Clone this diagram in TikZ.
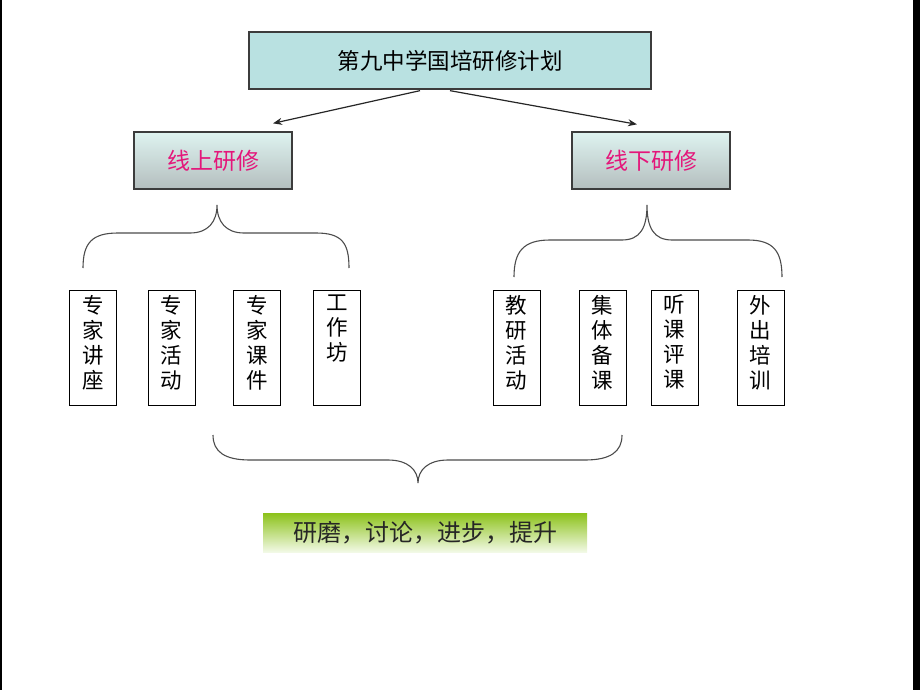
\documentclass[tikz,border=0pt]{standalone}
\usepackage{fontspec}
\setmainfont{Noto Sans CJK SC}
\usetikzlibrary{arrows.meta,calc}
\definecolor{topfill}{RGB}{185,225,225}
\definecolor{midtop}{RGB}{222,243,240}
\definecolor{midbot}{RGB}{180,190,190}
\definecolor{pinktext}{RGB}{228,22,122}
\definecolor{greentop}{RGB}{140,194,26}
\definecolor{greenbot}{RGB}{242,249,230}
\definecolor{edge}{RGB}{60,60,60}
\newcommand\vtext[1]{\parbox[c][115pt][t]{47pt}{\centering\vspace*{5pt}#1\par}}
\begin{document}
\begin{tikzpicture}[x=1pt,y=-1pt,
  topbox/.style={draw=edge, line width=1.3pt, fill=topfill, minimum width=402pt,
    minimum height=57pt, inner sep=0pt, font=\fontsize{22.5}{26}\selectfont},
  midbox/.style={draw=edge, line width=1.3pt, top color=midtop, bottom color=midbot,
    minimum width=158pt, minimum height=57pt, inner sep=0pt, text=pinktext,
    font=\fontsize{23}{27}\selectfont},
  itembox/.style={draw=black, line width=1pt, minimum width=47pt, minimum height=115pt,
    inner sep=0pt, font=\fontsize{21.5}{25}\selectfont},
  resultbox/.style={top color=greentop, bottom color=greenbot, minimum width=324pt,
    minimum height=39pt, inner sep=0pt, text=black!85, font=\fontsize{24}{28}\selectfont},
  arrowline/.style={draw=black!85, line width=1.2pt, -{Stealth[length=9pt,width=7pt]}},
  brace/.style={draw=black!70, line width=1.1pt}
]
\useasboundingbox (0,0) rectangle (920,690);
\fill[black] (0,0) rectangle (1.5,690);
\fill[black] (913,0) rectangle (920,690);

\node[topbox] (top) at (450,60.5) {第九中学国培研修计划};
\node[midbox] (on) at (213,160.5) {线上研修};
\node[midbox] (off) at (651,160.5) {线下研修};

\draw[arrowline] ($(top.south)+(-30,1)$) -- ($(on.north)+(60,-8)$);
\draw[arrowline] ($(top.south)+(0,1)$) -- ($(off.north)+(-14,-7)$);

% upper-left brace
\draw[brace] (83,268) .. controls (83,243) and (92,233) .. (118,233) -- (190,233)
  .. controls (208,233) and (217,222) .. (217,205)
  .. controls (217,222) and (226,233) .. (244,233) -- (316,233)
  .. controls (342,233) and (349,243) .. (349,268);
% upper-right brace
\draw[brace] (514,277) .. controls (514,252) and (523,240) .. (550,240) -- (622,240)
  .. controls (640,240) and (647,228) .. (647,205)
  .. controls (647,228) and (654,240) .. (672,240) -- (748,240)
  .. controls (774,240) and (782,252) .. (782,277);

\node[itembox] (b1) at (93,347.5) {\vtext{专\\家\\讲\\座}};
\node[itembox] (b2) at (171.5,347.5) {\vtext{专\\家\\活\\动}};
\node[itembox] (b3) at (257,347.5) {\vtext{专\\家\\课\\件}};
\node[itembox] (b4) at (337,347.5) {\vtext{工\\作\\坊}};
\node[itembox] (b5) at (516.5,347.5) {\vtext{教\\研\\活\\动}};
\node[itembox] (b6) at (602.5,347.5) {\vtext{集\\体\\备\\课}};
\node[itembox] (b7) at (674.5,347.5) {\vtext{听\\课\\评\\课}};
\node[itembox] (b8) at (760.5,347.5) {\vtext{外\\出\\培\\训}};

% lower brace
\draw[brace] (213,435) .. controls (213,452) and (225,460) .. (250,460) -- (388,460)
  .. controls (408,460) and (418,470) .. (418,483)
  .. controls (418,470) and (428,460) .. (448,460) -- (585,460)
  .. controls (610,460) and (622,452) .. (622,435);

\node[resultbox] (res) at (425,532.5) {研磨，讨论，进步，提升};
\end{tikzpicture}
\end{document}
